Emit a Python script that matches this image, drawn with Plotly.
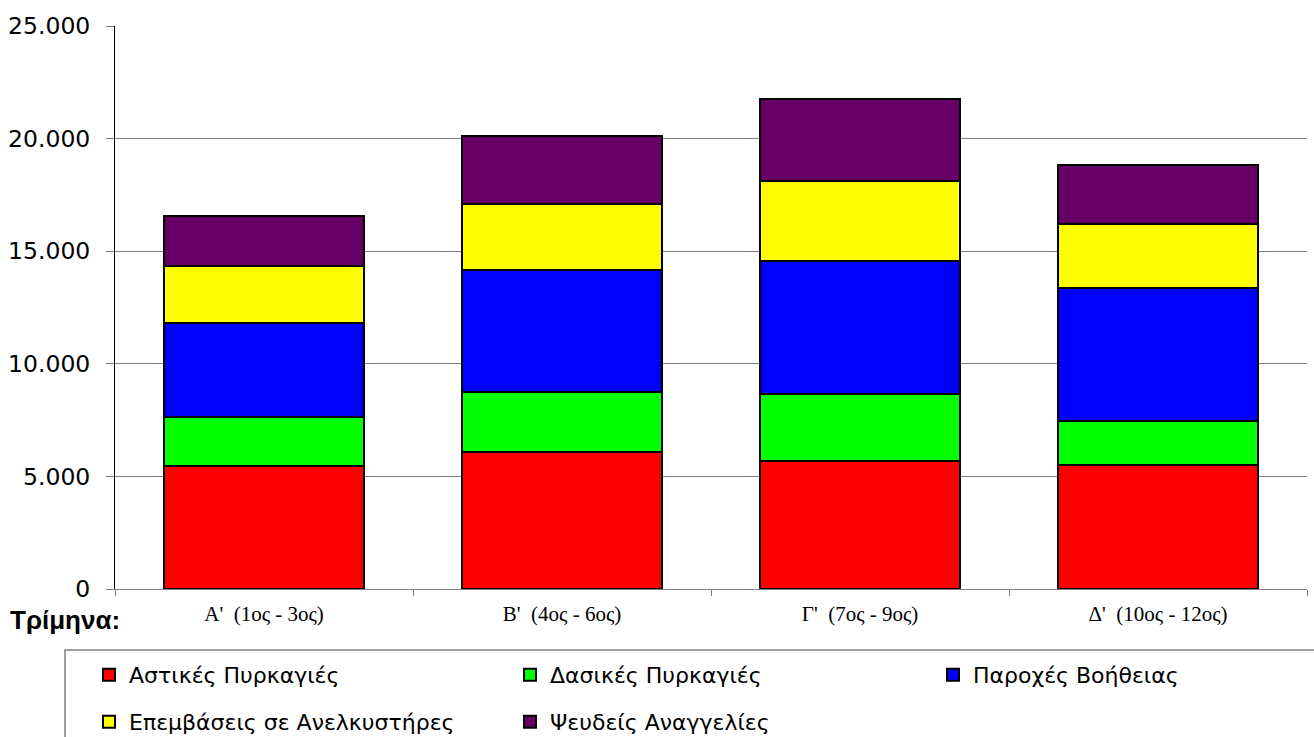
import plotly.graph_objects as go

categories = ["Α'\u00a0 (1ος - 3ος)", "Β'\u00a0 (4ος - 6ος)", "Γ'\u00a0 (7ος - 9ος)", "Δ'\u00a0 (10ος - 12ος)"]
astikes = [5475, 6085, 5670, 5490]
dasikes = [2150, 2650, 3000, 1985]
parohes = [4200, 5430, 5895, 5880]
anelkystires = [2515, 2915, 3565, 2870]
pseudeis = [2240, 3035, 3615, 2620]

series_names = ["Αστικές Πυρκαγιές", "Δασικές Πυρκαγιές", "Παροχές Βοήθειας",
                "Επεμβάσεις σε Ανελκυστήρες", "Ψευδείς Αναγγελίες"]
series_values = [astikes, dasikes, parohes, anelkystires, pseudeis]
series_colors = ["#FF0000", "#00FF00", "#0000FF", "#FFFF00", "#660066"]

y_ticks = [0, 5000, 10000, 15000, 20000, 25000]

# layout geometry (pixels)
W, H = 1314, 737
ML, MR, MT, MB = 115, 7, 26, 148
PW, PH = W - ML - MR, H - MT - MB
X0, Y0 = ML, H - MB  # plot origin in pixels


def px_x(px):
    return (px - X0) / PW


def px_y(py):
    return (Y0 - py) / PH


# legend entry slots: (square-left px, row-centre px)
legend_slots = [(108, 675), (529, 675), (952, 675), (108, 722), (529, 722)]
legend_ids = ["legend", "legend2", "legend3", "legend4", "legend5"]

fig = go.Figure()
for name, vals, col, lg in zip(series_names, series_values, series_colors, legend_ids):
    fig.add_trace(go.Bar(
        x=categories, y=vals, name=name,
        marker=dict(color=col, line=dict(color="#000000", width=2)),
        width=0.67, legend=lg,
    ))

legend_common = dict(
    orientation="h", itemwidth=30,
    font=dict(family="DejaVu Sans, sans-serif", size=22, color="#000000"),
    bgcolor="rgba(0,0,0,0)", borderwidth=0, traceorder="normal",
    xanchor="left", yanchor="middle", itemclick=False, itemdoubleclick=False,
)
legend_layout = {}
for lg, (sx, sy) in zip(legend_ids, legend_slots):
    legend_layout[lg] = dict(x=px_x(sx - 19), y=px_y(sy), **legend_common)

fig.update_layout(
    width=W, height=H,
    margin=dict(l=ML, r=MR, t=MT, b=MB, autoexpand=False),
    barmode="stack", bargap=0.33,
    separators=",.",
    plot_bgcolor="#FFFFFF", paper_bgcolor="#FFFFFF",
    showlegend=True,
    **legend_layout,
    xaxis=dict(
        showline=True, linecolor="#808080", linewidth=1,
        ticks="outside", ticklen=6, tickcolor="#808080", tickson="boundaries",
        showgrid=False, automargin=False,
        tickfont=dict(family="Liberation Serif, Times New Roman, serif", size=21, color="#000000"),
        ticklabelstandoff=6,
    ),
    yaxis=dict(
        range=[0, 25000], tickvals=y_ticks, tickformat=",d",
        showline=True, linecolor="#000000", linewidth=1,
        ticks="outside", ticklen=8, tickcolor="#808080",
        showgrid=True, gridcolor="#808080", gridwidth=1,
        zeroline=False, automargin=False,
        tickfont=dict(family="DejaVu Sans, sans-serif", size=23.5, color="#000000"),
        ticklabelstandoff=11,
    ),
    shapes=[dict(
        type="rect", xref="paper", yref="paper",
        x0=px_x(65), x1=px_x(1330),
        y0=px_y(650), y1=px_y(760),
        line=dict(color="#808080", width=1.5), fillcolor="rgba(0,0,0,0)",
    )],
    annotations=[dict(
        text="<b>Τρίμηνα:</b>", xref="paper", yref="paper",
        x=px_x(8), y=px_y(620), xanchor="left", yanchor="middle",
        showarrow=False,
        font=dict(family="Liberation Sans, Arial, sans-serif", size=26, color="#000000"),
    )],
)

fig.write_html(
    "out.html",
    config={"displayModeBar": False},
    post_script="document.body.style.margin='0';document.body.style.overflow='hidden';",
)
